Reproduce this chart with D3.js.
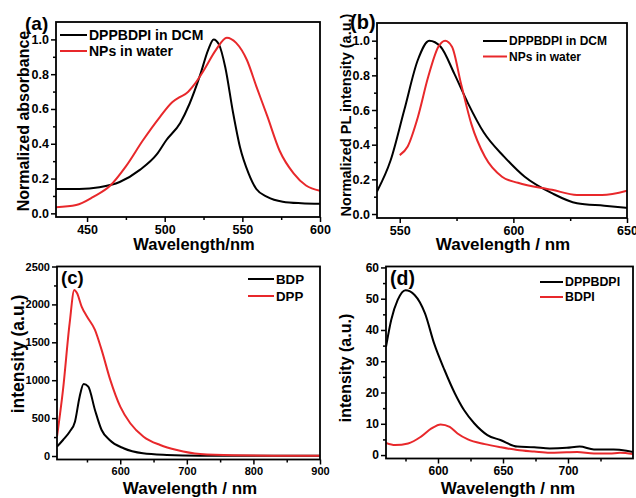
<!DOCTYPE html>
<html lang="en">
<head>
  <meta charset="UTF-8">
  <title></title>
  <style>
    body { margin: 0; background: #fff; }
    svg { display: block; }
  </style>
</head>
<body>
  <script src="https://d3js.org/d3.v7.min.js"></script>
  <script>
    const [width, height] = [636, 498];
    const red = "#e8282b";

    // (a) absorbance
    const absDcmW = [430, 445, 458, 471, 484, 495, 501, 510, 516, 523, 528, 531.5, 535, 539, 544, 548.5, 554, 559, 566, 576, 588, 600];
    const absDcmV = [0.14, 0.14, 0.15, 0.18, 0.25, 0.34, 0.42, 0.52, 0.63, 0.80, 0.94, 1.0, 0.97, 0.84, 0.58, 0.38, 0.23, 0.14, 0.095, 0.067, 0.058, 0.055];
    const absNpW = [430, 443, 454, 465, 475, 486, 497, 505, 510, 514, 519, 525, 533, 540, 546, 553, 559, 566, 574, 583, 591, 600];
    const absNpV = [0.035, 0.048, 0.095, 0.16, 0.27, 0.42, 0.555, 0.64, 0.67, 0.69, 0.74, 0.82, 0.94, 1.01, 0.98, 0.88, 0.73, 0.56, 0.36, 0.23, 0.16, 0.13];

    // (b) normalized PL
    const plDcmW = [540, 546, 552, 558, 563, 568, 574, 580, 587, 596, 605, 617, 628, 640, 650];
    const plDcmV = [0.13, 0.31, 0.60, 0.89, 1.0, 0.965, 0.81, 0.64, 0.47, 0.33, 0.215, 0.12, 0.062, 0.048, 0.036];
    const plNpW = [550, 553.5, 558, 562.5, 567, 570, 573, 577, 581.5, 587.5, 595, 602, 617, 628, 639, 650];
    const plNpV = [0.34, 0.39, 0.56, 0.79, 0.965, 1.0, 0.965, 0.75, 0.52, 0.33, 0.215, 0.18, 0.14, 0.11, 0.11, 0.135];

    // (c) BDP / DPP
    const bdpW = [505, 514, 524, 532, 539, 545, 552, 562, 572, 584, 605, 634, 670, 720, 800, 900];
    const bdpV = [123, 211, 321, 453, 783, 951, 915, 608, 343, 211, 102, 35, 13, 3, 2, 2];
    const dppW = [505, 514, 524, 531, 535, 542, 550, 562, 572, 585, 600, 615, 635, 660, 685, 720, 770, 830, 900];
    const dppV = [255, 872, 1753, 2190, 2150, 1972, 1840, 1664, 1400, 1004, 651, 432, 255, 145, 79, 26, 9, 5, 5];

    // (d) DPPBDPI / BDPI
    const dpbW = [560, 564, 569, 575, 582, 590, 597, 605, 613, 620, 628, 638, 648, 661, 674, 686, 699, 709, 720, 735, 745, 750];
    const dpbV = [34.6, 43.2, 49.6, 52.7, 51.2, 45.3, 35.7, 27.2, 19.7, 14.4, 10.1, 6.4, 4.8, 2.7, 2.5, 2.1, 2.3, 2.7, 1.8, 1.8, 1.4, 1.0];
    const bdpiW = [560, 567, 577, 587, 595, 602, 609, 615, 623, 636, 648, 661, 674, 686, 699, 707, 720, 732, 740, 750];
    const bdpiV = [3.9, 3.2, 3.7, 5.9, 8.5, 9.8, 9.0, 6.9, 5.0, 3.5, 2.5, 1.6, 1.1, 0.7, 0.9, 1.0, 0.5, 0.5, 0.7, 0.3];

    const zip = (w, v) => w.map((d, i) => [d, v[i]]);

    const panels = [
      {
        box: [56, 320, 22, 217], xDom: [430, 600], yDom: [-0.021, 1.1],
        xTicks: [450, 500, 550, 600], xMinor: [475, 525, 575],
        yTicks: [0, 0.2, 0.4, 0.6, 0.8, 1.0], yMinor: [0.1, 0.3, 0.5, 0.7, 0.9], yFmt: d3.format(".1f"),
        tickFont: 12.5, label: "(a)", labelPos: [25, 30], labelFont: 19,
        xTitle: "Wavelength/nm", xTitlePos: [194, 250], xTitleFont: 16.5,
        yTitle: "Normalized absorbance", yTitlePos: [29, 121], yTitleFont: 16,
        series: [
          { name: "DPPBDPI in DCM", color: "#000", data: zip(absDcmW, absDcmV) },
          { name: "NPs in water", color: red, data: zip(absNpW, absNpV) }
        ],
        legend: { x: 60, y: 35, dy: 16, len: 27, font: 14 }
      },
      {
        box: [377, 627, 23, 218], xDom: [540, 650], yDom: [-0.023, 1.102],
        xTicks: [550, 600, 650], xMinor: [575, 625],
        yTicks: [0, 0.2, 0.4, 0.6, 0.8, 1.0], yMinor: [0.1, 0.3, 0.5, 0.7, 0.9], yFmt: d3.format(".1f"),
        tickFont: 12.5, label: "(b)", labelPos: [350, 29], labelFont: 20,
        xTitle: "Wavelength / nm", xTitlePos: [503, 250], xTitleFont: 17,
        yTitle: "Normalized PL intensity (a.u.)", yTitlePos: [351, 115], yTitleFont: 14.5,
        series: [
          { name: "DPPBDPI in DCM", color: "#000", data: zip(plDcmW, plDcmV) },
          { name: "NPs in water", color: red, data: zip(plNpW, plNpV) }
        ],
        legend: { x: 483, y: 41, dy: 15.5, len: 24, font: 12 }
      },
      {
        box: [57, 320, 266.5, 459.5], xDom: [505, 900], yDom: [-46, 2500],
        xTicks: [600, 700, 800, 900], xMinor: [550, 650, 750, 850],
        yTicks: [0, 500, 1000, 1500, 2000, 2500], yMinor: [250, 750, 1250, 1750, 2250], yFmt: d3.format("d"),
        tickFont: 11, label: "(c)", labelPos: [61, 284], labelFont: 18.5,
        xTitle: "Wavelength / nm", xTitlePos: [190, 494], xTitleFont: 17,
        yTitle: "intensity (a.u.)", yTitlePos: [24, 354], yTitleFont: 17.5,
        series: [
          { name: "BDP", color: "#000", data: zip(bdpW, bdpV) },
          { name: "DPP", color: red, data: zip(dppW, dppV) }
        ],
        legend: { x: 248, y: 279, dy: 17, len: 26, font: 13.3 }
      },
      {
        box: [386, 633, 266.5, 458.5], xDom: [560, 750], yDom: [-1.1, 60.3],
        xTicks: [600, 650, 700], xMinor: [575, 625, 675, 725],
        yTicks: [0, 10, 20, 30, 40, 50, 60], yMinor: [5, 15, 25, 35, 45, 55], yFmt: d3.format("d"),
        tickFont: 12, label: "(d)", labelPos: [390, 285], labelFont: 19.5,
        xTitle: "Wavelength / nm", xTitlePos: [508, 494], xTitleFont: 17,
        yTitle: "intensity (a.u.)", yTitlePos: [351, 368], yTitleFont: 16,
        series: [
          { name: "DPPBDPI", color: "#000", data: zip(dpbW, dpbV) },
          { name: "BDPI", color: red, data: zip(bdpiW, bdpiV) }
        ],
        legend: { x: 540, y: 282, dy: 15, len: 23, font: 12.4 }
      }
    ];

    const svg = d3
      .select(document.body)
      .append("svg")
      .attr("width", width)
      .attr("height", height)
      .attr("viewBox", [0, 0, width, height])
      .attr("font-family", "'Liberation Sans', Arial, sans-serif")
      .attr("font-weight", "bold");

    for (const p of panels) {
      const [l, r, t, b] = p.box;
      const x = d3.scaleLinear().domain(p.xDom).range([l, r]);
      const y = d3.scaleLinear().domain(p.yDom).range([b, t]);
      const g = svg.append("g");

      // minor ticks
      g.append("g")
        .attr("transform", `translate(0,${b})`)
        .call(d3.axisBottom(x).tickValues(p.xMinor).tickSize(3).tickFormat(""))
        .call((s) => s.select(".domain").remove());
      g.append("g")
        .attr("transform", `translate(${l},0)`)
        .call(d3.axisLeft(y).tickValues(p.yMinor).tickSize(3).tickFormat(""))
        .call((s) => s.select(".domain").remove());

      // major ticks
      g.append("g")
        .attr("transform", `translate(0,${b})`)
        .call(d3.axisBottom(x).tickValues(p.xTicks).tickSize(5).tickPadding(3))
        .call((s) => s.select(".domain").remove())
        .call((s) => s.selectAll("text").attr("font-size", p.tickFont).attr("font-family", null));
      g.append("g")
        .attr("transform", `translate(${l},0)`)
        .call(d3.axisLeft(y).tickValues(p.yTicks).tickSize(5).tickPadding(2).tickFormat(p.yFmt))
        .call((s) => s.select(".domain").remove())
        .call((s) => s.selectAll("text").attr("font-size", p.tickFont).attr("font-family", null));
      g.selectAll(".tick line").attr("stroke-width", 1.5);

      // curves
      const clipId = `clip-${p.label.replace(/\W/g, "")}`;
      g.append("clipPath").attr("id", clipId)
        .append("rect").attr("x", l).attr("y", t).attr("width", r - l).attr("height", b - t);
      const line = d3.line().curve(d3.curveMonotoneX).x((d) => x(d[0])).y((d) => y(d[1]));
      g.append("g")
        .attr("clip-path", `url(#${clipId})`)
        .selectAll("path")
        .data(p.series)
        .join("path")
        .attr("fill", "none")
        .attr("stroke", (d) => d.color)
        .attr("stroke-width", 2)
        .attr("stroke-linejoin", "round")
        .attr("d", (d) => line(d.data));

      // frame
      g.append("rect")
        .attr("x", l).attr("y", t)
        .attr("width", r - l).attr("height", b - t)
        .attr("fill", "none").attr("stroke", "#000").attr("stroke-width", 1.8);

      // legend
      const lg = g.append("g");
      p.series.forEach((s, i) => {
        const ly = p.legend.y + i * p.legend.dy;
        lg.append("line")
          .attr("x1", p.legend.x).attr("x2", p.legend.x + p.legend.len)
          .attr("y1", ly).attr("y2", ly)
          .attr("stroke", s.color).attr("stroke-width", 2);
        lg.append("text")
          .attr("x", p.legend.x + p.legend.len + 2).attr("y", ly)
          .attr("dy", "0.36em")
          .attr("font-size", p.legend.font)
          .text(s.name);
      });

      // labels & titles
      g.append("text")
        .attr("x", p.labelPos[0]).attr("y", p.labelPos[1])
        .attr("font-size", p.labelFont)
        .text(p.label);
      g.append("text")
        .attr("x", p.xTitlePos[0]).attr("y", p.xTitlePos[1])
        .attr("text-anchor", "middle")
        .attr("font-size", p.xTitleFont)
        .text(p.xTitle);
      g.append("text")
        .attr("transform", `translate(${p.yTitlePos[0]},${p.yTitlePos[1]}) rotate(-90)`)
        .attr("text-anchor", "middle")
        .attr("font-size", p.yTitleFont)
        .text(p.yTitle);
    }
  </script>
</body>
</html>
